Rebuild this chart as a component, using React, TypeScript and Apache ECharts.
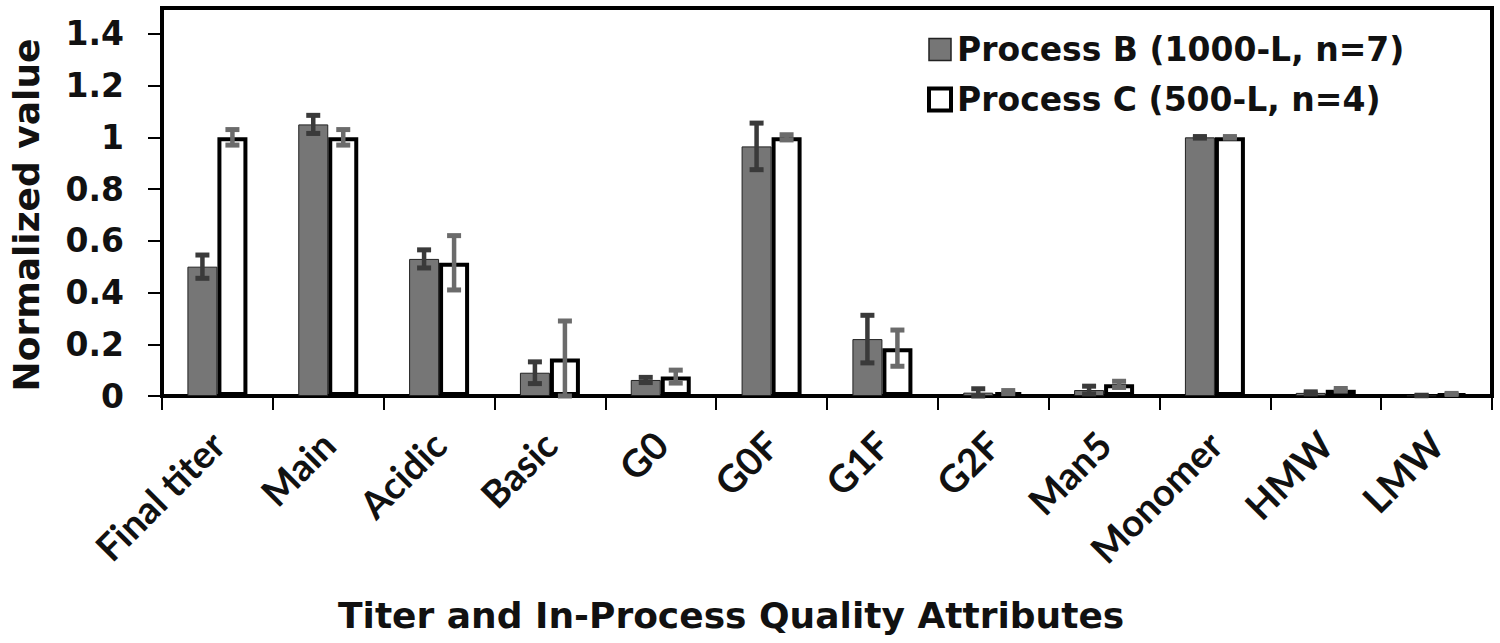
import React, { useEffect, useRef } from "react";
import * as echarts from "echarts";

const categories = ["Final titer", "Main", "Acidic", "Basic", "G0", "G0F", "G1F", "G2F", "Man5", "Monomer", "HMW", "LMW"];
const processB = [0.5, 1.05, 0.53, 0.09, 0.062, 0.965, 0.22, 0.013, 0.023, 1.0, 0.012, 0.002];
const processBErr = [0.045, 0.035, 0.035, 0.042, 0.01, 0.09, 0.092, 0.015, 0.015, 0.003, 0.004, 0.001];
const processC = [1.0, 1.0, 0.515, 0.145, 0.075, 1.0, 0.185, 0.015, 0.045, 1.0, 0.024, 0.008];
const processCErr = [0.03, 0.03, 0.105, 0.145, 0.025, 0.01, 0.07, 0.006, 0.012, 0.003, 0.005, 0.002];
const yTicks = [0, 0.2, 0.4, 0.6, 0.8, 1, 1.2, 1.4];
const seriesNames = ["Process B (1000-L, n=7)", "Process C (500-L, n=4)"];

const BAR_W = 30;

function errSeries(name: string, vals: number[], errs: number[], offset: number, color: string) {
  return {
    type: "custom",
    name: name + " err",
    z: 10,
    silent: true,
    data: vals.map((v, i) => [i, v, errs[i]]),
    encode: { x: 0, y: 1 },
    renderItem: (_p: any, api: any) => {
      const idx = api.value(0);
      const v = api.value(1);
      const e = api.value(2);
      const hi = api.coord([idx, v + e]);
      const lo = api.coord([idx, Math.max(0, v - e)]);
      const x = hi[0] + offset;
      const stem = { stroke: color, lineWidth: 4.5 };
      const cap = { stroke: color, lineWidth: 5 };
      return {
        type: "group",
        children: [
          { type: "line", shape: { x1: x, y1: hi[1], x2: x, y2: lo[1] }, style: stem },
          { type: "line", shape: { x1: x - 7, y1: hi[1], x2: x + 7, y2: hi[1] }, style: cap },
          { type: "line", shape: { x1: x - 7, y1: lo[1], x2: x + 7, y2: lo[1] }, style: cap },
        ],
      };
    },
  };
}

export default function App() {
  const ref = useRef<HTMLDivElement>(null);
  useEffect(() => {
    const chart = echarts.init(ref.current!, null, { renderer: "svg" });
    const bold = { fontFamily: "DejaVu Sans", fontWeight: "bold" as const, color: "#111" };
    chart.setOption({
      animation: false,
      backgroundColor: "#fff",
      grid: { left: 162, right: 8, top: 8, bottom: 247, show: true, borderColor: "#000", borderWidth: 4 },
      title: {
        text: "Titer and In-Process Quality Attributes",
        left: 333,
        top: 592,
        textStyle: { ...bold, fontSize: 36 },
      },
      legend: {
        orient: "vertical",
        left: 922,
        top: 28,
        itemWidth: 22,
        itemHeight: 22,
        itemGap: 17,
        icon: "rect",
        textStyle: { ...bold, fontSize: 33, padding: [0, 0, 0, 1] },
        data: [
          { name: seriesNames[0], itemStyle: { color: "#767676", borderColor: "#222", borderWidth: 1.5 } },
          { name: seriesNames[1], itemStyle: { color: "#fff", borderColor: "#000", borderWidth: 4 } },
        ],
      },
      xAxis: {
        type: "category",
        data: categories,
        axisLine: { lineStyle: { color: "#000", width: 4 } },
        axisTick: { show: true, length: 14, lineStyle: { color: "#000", width: 2 } },
        axisLabel: {
          interval: 0,
          rotate: 45,
          margin: 42,
          fontFamily: "Lato",
          fontWeight: "bold",
          fontSize: 38,
          color: "#111",
        },
      },
      yAxis: {
        type: "value",
        min: 0,
        max: 1.5,
        interval: 0.2,
        name: "Normalized value",
        nameLocation: "middle",
        nameGap: 118,
        nameRotate: 90,
        nameTextStyle: { ...bold, fontSize: 36, padding: [0, 26, 0, 0] },
        splitLine: { show: false },
        axisLine: { show: true, lineStyle: { color: "#000", width: 4 } },
        axisTick: { show: true, length: 14, lineStyle: { color: "#000", width: 2 }, customValues: yTicks },
        axisLabel: {
          customValues: yTicks,
          margin: 38,
          ...bold,
          fontSize: 33,
          formatter: (v: number) => String(Math.round(v * 10) / 10),
        },
      },
      series: [
        {
          type: "bar",
          name: seriesNames[0],
          data: processB,
          barWidth: BAR_W,
          barGap: "0%",
          itemStyle: { color: "#767676", borderColor: "#222", borderWidth: 1 },
        },
        {
          type: "bar",
          name: seriesNames[1],
          data: processC,
          barWidth: BAR_W,
          barGap: "0%",
          itemStyle: { color: "#fff", borderColor: "#000", borderWidth: 4 },
        },
        errSeries(seriesNames[0], processB, processBErr, -BAR_W / 2, "#3a3a3a"),
        errSeries(seriesNames[1], processC, processCErr, BAR_W / 2, "#6b6b6b"),
      ],
    });
    return () => chart.dispose();
  }, []);
  return <div ref={ref} style={{ position: "fixed", left: 0, top: 0, width: 1500, height: 643 }} />;
}
